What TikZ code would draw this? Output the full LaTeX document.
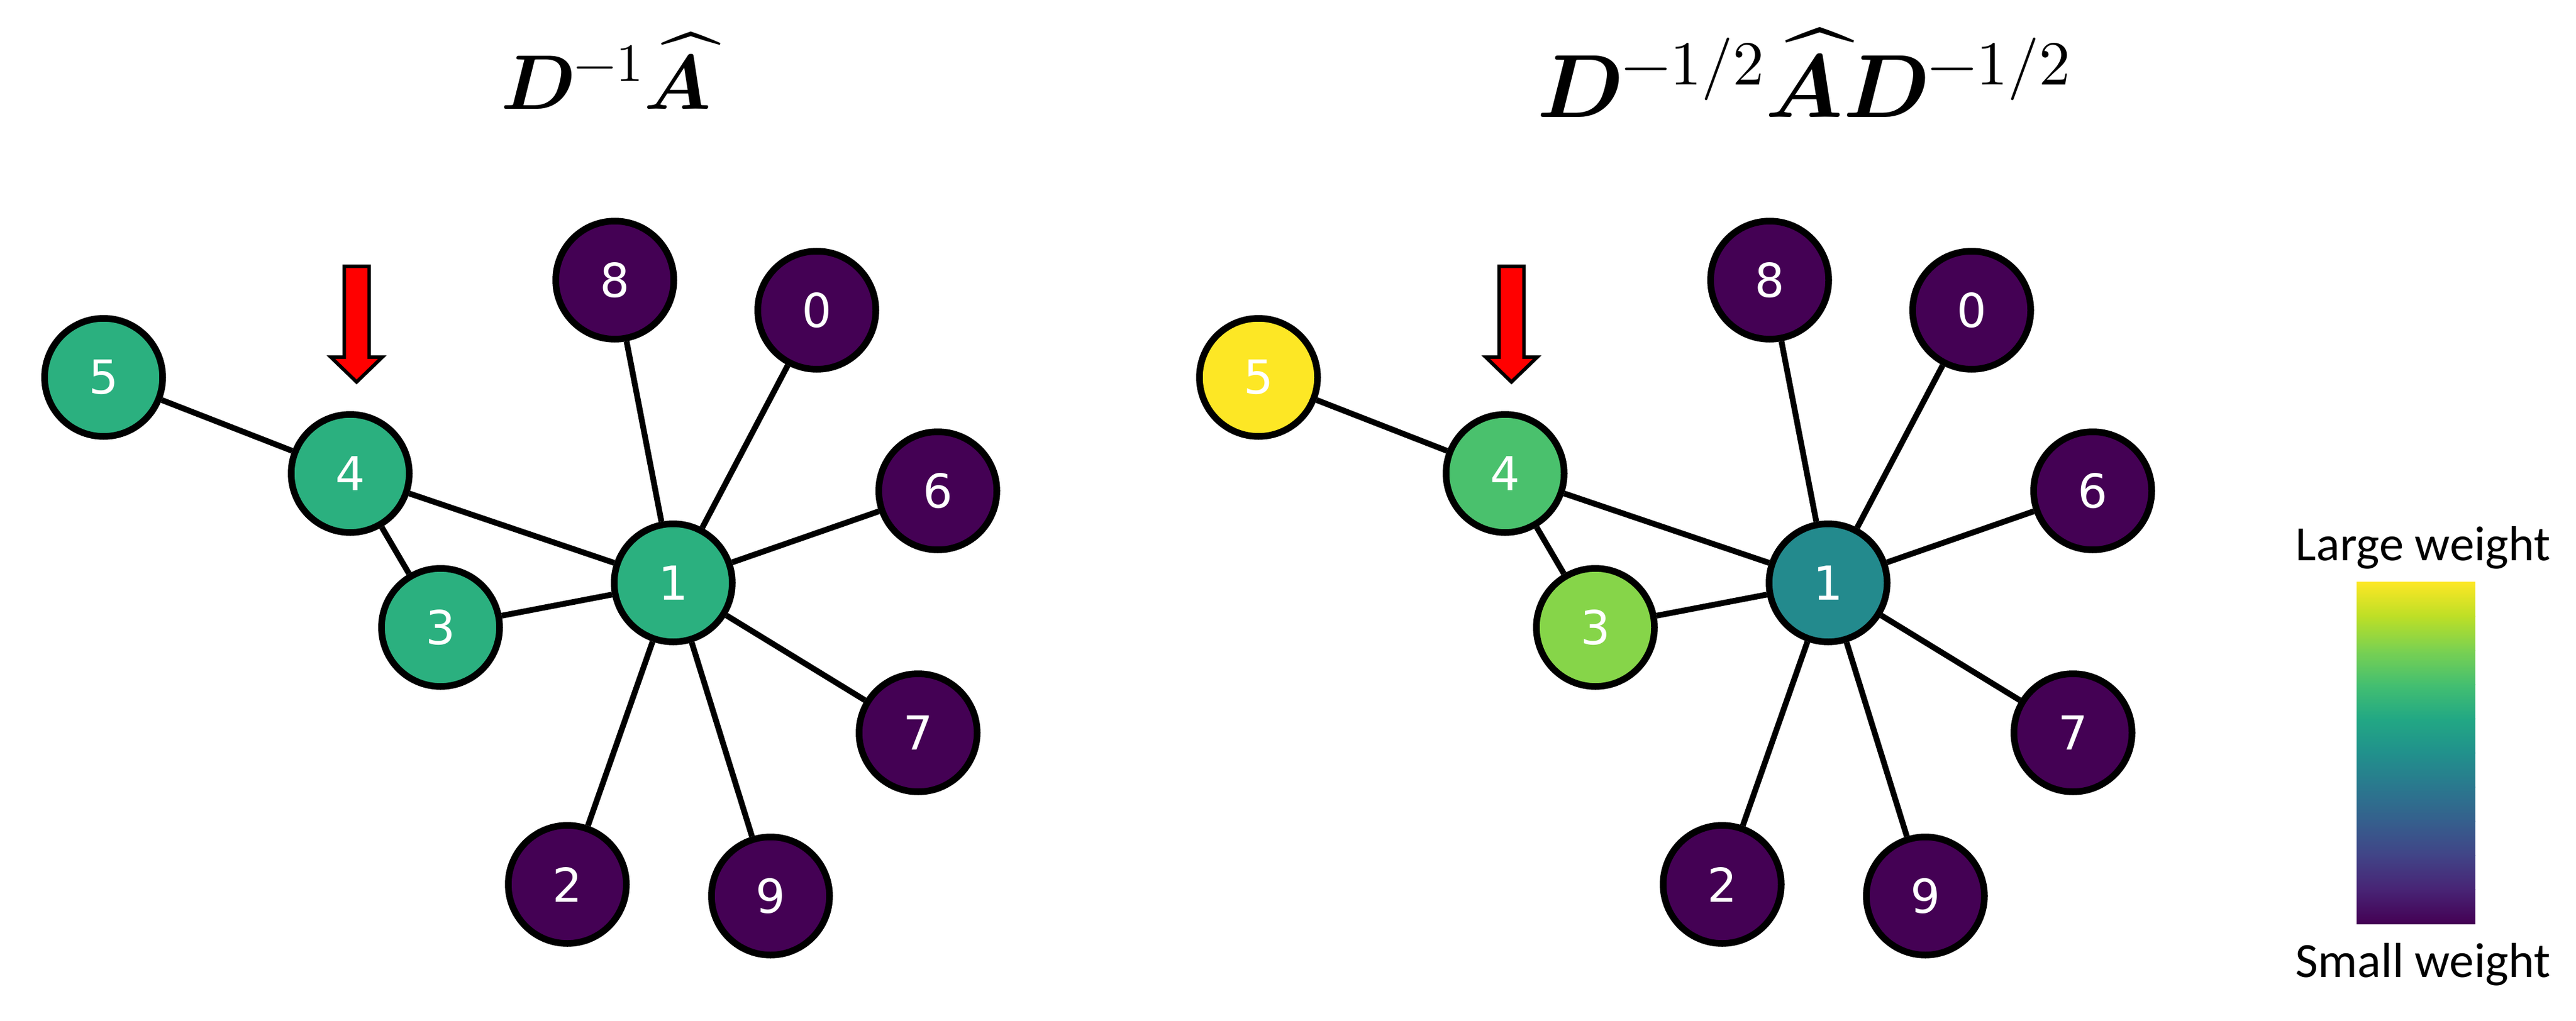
\documentclass[tikz,border=0pt]{standalone}
\usepackage{fontspec}
\usepackage{unicode-math}
\setmathfont{Latin Modern Math}
\newfontfamily\nodefont{DejaVu Sans}
\newfontfamily\barfont{Carlito}
\usetikzlibrary{calc}

% viridis colours
\definecolor{vir0}{HTML}{440154}
\definecolor{vir1}{HTML}{482475}
\definecolor{vir2}{HTML}{414487}
\definecolor{vir3}{HTML}{355F8D}
\definecolor{vir4}{HTML}{2A788E}
\definecolor{vir5}{HTML}{21918C}
\definecolor{vir6}{HTML}{22A884}
\definecolor{vir7}{HTML}{44BF70}
\definecolor{vir8}{HTML}{7AD151}
\definecolor{vir9}{HTML}{BDDF26}
\definecolor{vir10}{HTML}{FDE725}
\definecolor{greenL}{HTML}{2BB07F}
\definecolor{tealR}{HTML}{238A8D}
\definecolor{limeR}{HTML}{86D549}
\definecolor{greenR}{HTML}{4AC16D}

\begin{document}
\begin{tikzpicture}[gnode/.style={circle, draw=black, line width=1.15mm, minimum size=2.04cm, inner sep=0pt, text=white, font=\nodefont\fontsize{23}{28}\selectfont}, weaknode/.style={gnode, fill=vir0}, edge/.style={black, line width=1mm}, pointer/.style={fill=red, draw=black, line width=0.6mm, line join=miter}, title/.style={anchor=base, inner sep=0pt}, barlabel/.style={anchor=base, inner sep=0pt, font=\barfont\fontsize{24.2}{29}\selectfont}]
			\useasboundingbox (0,0) rectangle (44.5,-17.64);

			\coordinate (midL) at (11.63,-10.07);
			\coordinate (midR) at ($(midL)+(19.95,0)$);

			\node[title] (titleL) at (10.47,-1.89) {\fontsize{38}{44}\selectfont $\symbfit{D}^{-1}\widehat{\symbfit{A}}$};
			\node[title] (titleR) at (31.17,-2.03) {\fontsize{44}{50}\selectfont $\symbfit{D}^{-1/2}\widehat{\symbfit{A}}\symbfit{D}^{-1/2}$};

			%left graph
			\node[gnode, fill=greenL] (L1) at (midL) {1};
			\node[weaknode] (L0) at ($(midL)+(2.48,4.71)$) {0};
			\node[weaknode] (L2) at ($(midL)+(-1.83,-5.21)$) {2};
			\node[gnode, fill=greenL] (L3) at ($(midL)+(-4.02,-0.77)$) {3};
			\node[gnode, fill=greenL] (L4) at ($(midL)+(-5.58,1.89)$) {4};
			\node[gnode, fill=greenL] (L5) at ($(midL)+(-9.84,3.55)$) {5};
			\node[weaknode] (L6) at ($(midL)+(4.57,1.59)$) {6};
			\node[weaknode] (L7) at ($(midL)+(4.23,-2.59)$) {7};
			\node[weaknode] (L8) at ($(midL)+(-1.01,5.23)$) {8};
			\node[weaknode] (L9) at ($(midL)+(1.68,-5.41)$) {9};

			%right graph
			\node[gnode, fill=tealR] (R1) at (midR) {1};
			\node[weaknode] (R0) at ($(midR)+(2.48,4.71)$) {0};
			\node[weaknode] (R2) at ($(midR)+(-1.83,-5.21)$) {2};
			\node[gnode, fill=limeR] (R3) at ($(midR)+(-4.02,-0.77)$) {3};
			\node[gnode, fill=greenR] (R4) at ($(midR)+(-5.58,1.89)$) {4};
			\node[gnode, fill=vir10] (R5) at ($(midR)+(-9.84,3.55)$) {5};
			\node[weaknode] (R6) at ($(midR)+(4.57,1.59)$) {6};
			\node[weaknode] (R7) at ($(midR)+(4.23,-2.59)$) {7};
			\node[weaknode] (R8) at ($(midR)+(-1.01,5.23)$) {8};
			\node[weaknode] (R9) at ($(midR)+(1.68,-5.41)$) {9};

			\draw[edge] (L5) -- (L4);
			\draw[edge] (L4) -- (L1);
			\draw[edge] (L4) -- (L3);
			\draw[edge] (L3) -- (L1);
			\draw[edge] (L1) -- (L8);
			\draw[edge] (L1) -- (L0);
			\draw[edge] (L1) -- (L6);
			\draw[edge] (L1) -- (L7);
			\draw[edge] (L1) -- (L9);
			\draw[edge] (L1) -- (L2);

			\draw[edge] (R5) -- (R4);
			\draw[edge] (R4) -- (R1);
			\draw[edge] (R4) -- (R3);
			\draw[edge] (R3) -- (R1);
			\draw[edge] (R1) -- (R8);
			\draw[edge] (R1) -- (R0);
			\draw[edge] (R1) -- (R6);
			\draw[edge] (R1) -- (R7);
			\draw[edge] (R1) -- (R9);
			\draw[edge] (R1) -- (R2);

			%red pointers above node 4
			\coordinate (tipL) at ($(L4.center)+(0.11,1.58)$);
			\coordinate (tipR) at ($(R4.center)+(0.11,1.58)$);
			\draw[pointer] (tipL) -- ++(-0.445,0.43) -- ++(0.23,0) -- ++(0,1.57) -- ++(0.43,0) -- ++(0,-1.57) -- ++(0.23,0) -- cycle;
			\draw[pointer] (tipR) -- ++(-0.445,0.43) -- ++(0.23,0) -- ++(0,1.57) -- ++(0.43,0) -- ++(0,-1.57) -- ++(0.23,0) -- cycle;

			%colour bar
			\foreach \i [evaluate=\i as \j using int(\i+1)] in {0,...,9}
				\shade[bottom color=vir\i, top color=vir\j] (40.71,{-15.96+0.59*\i}) rectangle (42.76,{-15.96+0.59*\i+0.595});
			\node[barlabel] (large) at (41.86,-9.68) {Large weight};
			\node[barlabel] (small) at (41.86,-16.88) {Small weight};

		\end{tikzpicture}
\end{document}
